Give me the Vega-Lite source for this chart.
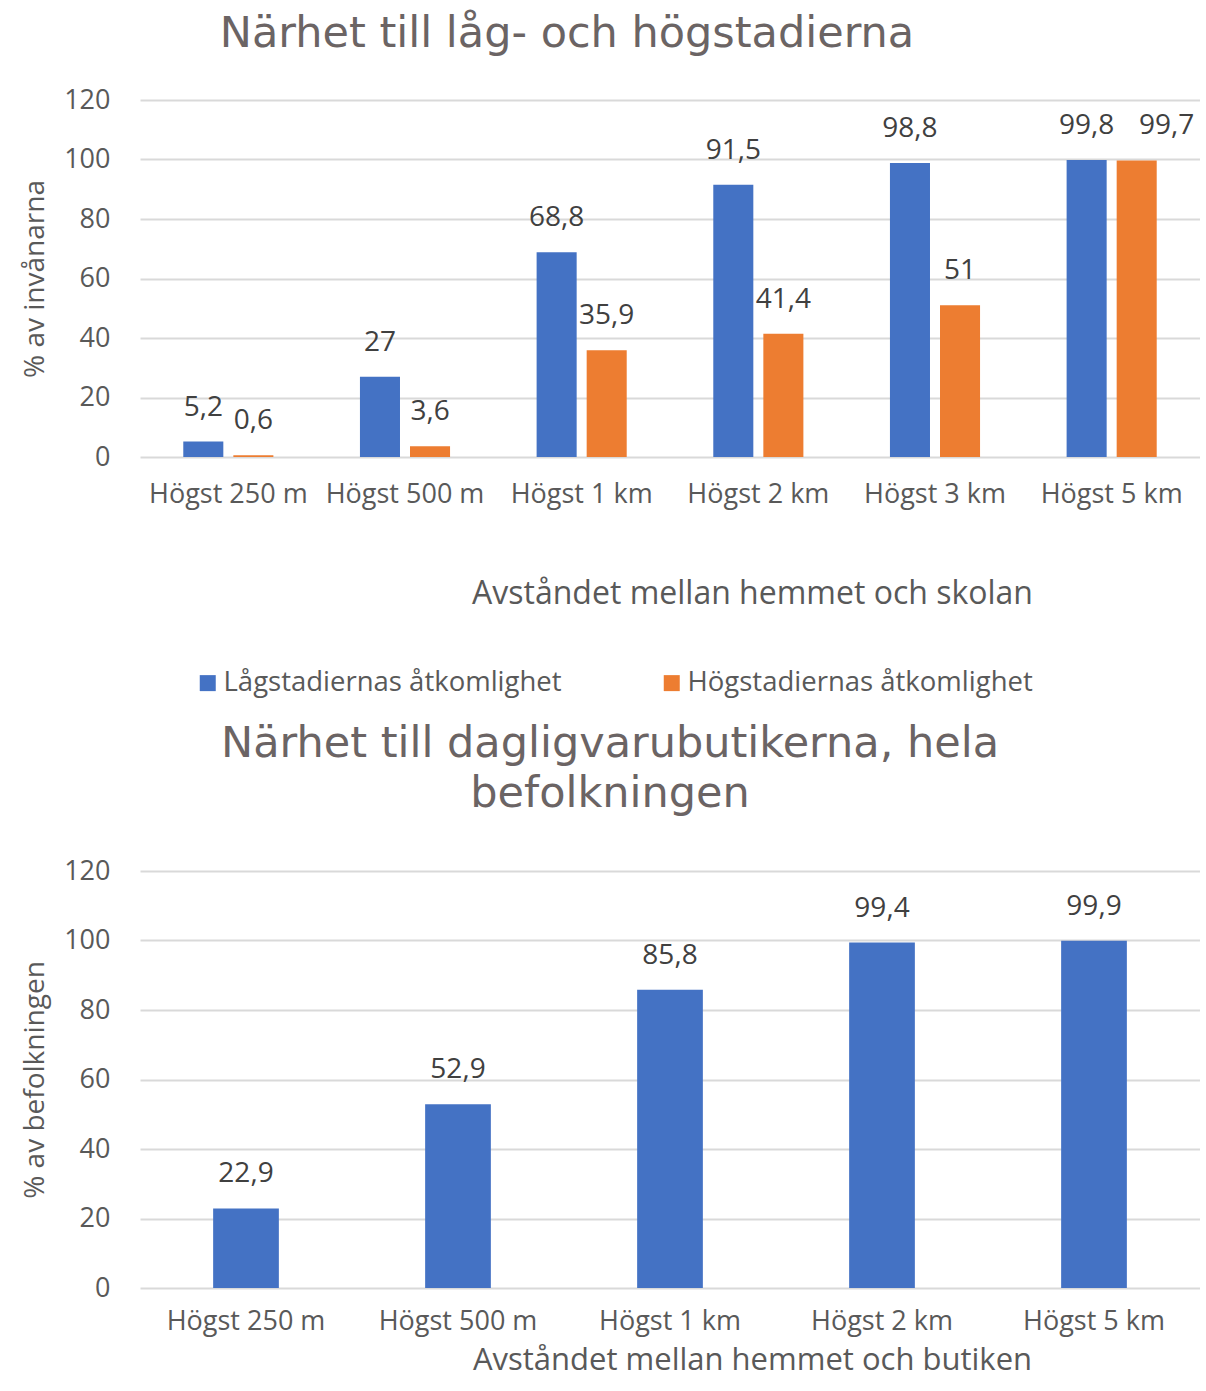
{
  "$schema": "https://vega.github.io/schema/vega-lite/v6.json",
  "background": "white",
  "padding": {"left": 21, "top": 13, "right": 0, "bottom": 0},
  "spacing": 114,
  "config": {
    "font": "Open Sans",
    "locale": {"number": {"decimal": ",", "thousands": " ", "grouping": [3], "currency": ["", " kr"]}},
    "view": {"stroke": null},
    "axis": {
      "labelColor": "#595959", "titleColor": "#595959",
      "labelFontSize": 27, "titleFontSize": 32, "titleFontWeight": "normal",
      "domain": false, "ticks": false, "grid": false
    },
    "axisY": {"grid": true, "gridColor": "#d9d9d9", "gridWidth": 2, "labelPadding": 30, "titleFontSize": 28, "titlePadding": 14},
    "title": {"font": "DejaVu Sans", "fontSize": 43, "fontWeight": "normal", "color": "#6b6464"},
    "legend": {"labelFontSize": 27.5, "labelColor": "#595959", "symbolType": "square", "symbolSize": 256, "labelLimit": 600}
  },
  "datasets": {
    "skolor": [
      {"avstand": "Högst 250 m", "serie": "Lågstadiernas åtkomlighet", "andel": 5.2},
      {"avstand": "Högst 250 m", "serie": "Högstadiernas åtkomlighet", "andel": 0.6},
      {"avstand": "Högst 500 m", "serie": "Lågstadiernas åtkomlighet", "andel": 27},
      {"avstand": "Högst 500 m", "serie": "Högstadiernas åtkomlighet", "andel": 3.6},
      {"avstand": "Högst 1 km", "serie": "Lågstadiernas åtkomlighet", "andel": 68.8},
      {"avstand": "Högst 1 km", "serie": "Högstadiernas åtkomlighet", "andel": 35.9},
      {"avstand": "Högst 2 km", "serie": "Lågstadiernas åtkomlighet", "andel": 91.5},
      {"avstand": "Högst 2 km", "serie": "Högstadiernas åtkomlighet", "andel": 41.4},
      {"avstand": "Högst 3 km", "serie": "Lågstadiernas åtkomlighet", "andel": 98.8},
      {"avstand": "Högst 3 km", "serie": "Högstadiernas åtkomlighet", "andel": 51},
      {"avstand": "Högst 5 km", "serie": "Lågstadiernas åtkomlighet", "andel": 99.8},
      {"avstand": "Högst 5 km", "serie": "Högstadiernas åtkomlighet", "andel": 99.7}
    ],
    "butiker": [
      {"avstand": "Högst 250 m", "andel": 22.9},
      {"avstand": "Högst 500 m", "andel": 52.9},
      {"avstand": "Högst 1 km", "andel": 85.8},
      {"avstand": "Högst 2 km", "andel": 99.4},
      {"avstand": "Högst 5 km", "andel": 99.9}
    ]
  },
  "vconcat": [
    {
      "width": 1060,
      "height": 357,
      "title": {"text": "Närhet till låg- och högstadierna", "dx": -103, "offset": 30},
      "data": {"name": "skolor"},
      "encoding": {
        "x": {
          "field": "avstand", "type": "nominal", "sort": null,
          "scale": {"paddingInner": 0.49, "paddingOuter": 0.245},
          "axis": {"labelAngle": 0, "labelPadding": 24, "title": "Avståndet mellan hemmet och skolan", "titlePadding": 71, "titleX": 612}
        },
        "xOffset": {
          "field": "serie", "type": "nominal",
          "sort": ["Lågstadiernas åtkomlighet", "Högstadiernas åtkomlighet"],
          "scale": {"paddingInner": 0.2}
        },
        "y": {
          "field": "andel", "type": "quantitative",
          "scale": {"domain": [0, 120]},
          "axis": {"values": [0, 20, 40, 60, 80, 100, 120], "title": "% av invånarna"}
        }
      },
      "layer": [
        {
          "mark": {"type": "bar"},
          "encoding": {
            "color": {
              "field": "serie", "type": "nominal",
              "sort": ["Lågstadiernas åtkomlighet", "Högstadiernas åtkomlighet"],
              "scale": {"range": ["#4472C4", "#ED7D31"]},
              "legend": {"title": null, "orient": "none", "direction": "horizontal", "legendX": 54, "legendY": 569, "columnPadding": 96, "labelOffset": 2}
            }
          }
        },
        {
          "transform": [{"filter": "!(datum.avstand == 'Högst 5 km' && datum.serie == 'Högstadiernas åtkomlighet')"}],
          "mark": {"type": "text", "baseline": "middle", "dy": -34, "fontSize": 28, "color": "#404040"},
          "encoding": {"text": {"field": "andel", "type": "quantitative", "format": ".1~f"}}
        },
        {
          "transform": [{"filter": "datum.avstand == 'Högst 5 km' && datum.serie == 'Högstadiernas åtkomlighet'"}],
          "mark": {"type": "text", "baseline": "middle", "dy": -34, "dx": 30, "fontSize": 28, "color": "#404040"},
          "encoding": {"text": {"field": "andel", "type": "quantitative", "format": ".1~f"}}
        }
      ]
    },
    {
      "width": 1060,
      "height": 417,
      "title": {"text": ["Närhet till dagligvarubutikerna, hela", "befolkningen"], "dx": -60, "offset": 41, "lineHeight": 50},
      "data": {"name": "butiker"},
      "encoding": {
        "x": {
          "field": "avstand", "type": "nominal", "sort": null,
          "scale": {"paddingInner": 0.69, "paddingOuter": 0.345},
          "axis": {"labelAngle": 0, "labelPadding": 20, "title": "Avståndet mellan hemmet och butiken", "titleFontSize": 31, "titlePadding": 11, "titleX": 612}
        },
        "y": {
          "field": "andel", "type": "quantitative",
          "scale": {"domain": [0, 120]},
          "axis": {"values": [0, 20, 40, 60, 80, 100, 120], "title": "% av befolkningen"}
        }
      },
      "layer": [
        {"mark": {"type": "bar", "color": "#4472C4"}},
        {
          "mark": {"type": "text", "baseline": "middle", "dy": -34, "fontSize": 28, "color": "#404040"},
          "encoding": {"text": {"field": "andel", "type": "quantitative", "format": ".1~f"}}
        }
      ]
    }
  ]
}
